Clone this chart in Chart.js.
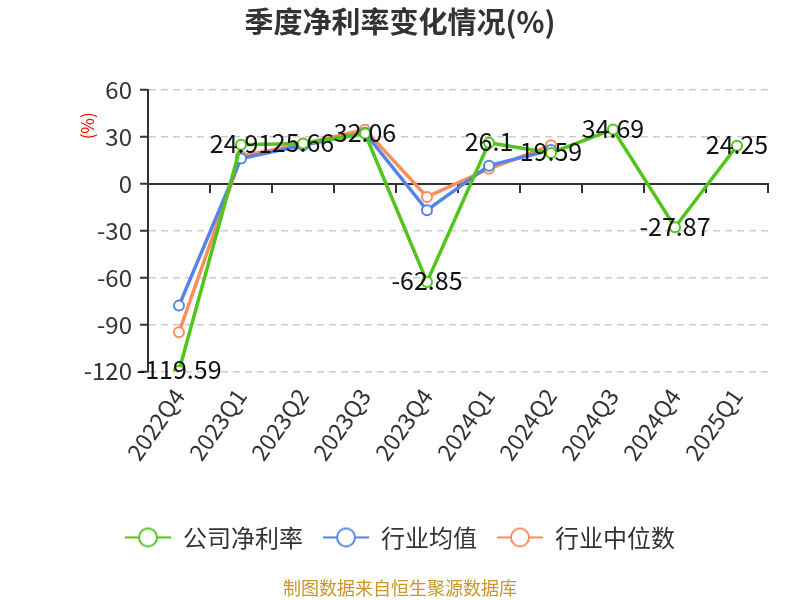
<!DOCTYPE html>
<html>
<head>
<meta charset="utf-8">
<script src="https://cdn.jsdelivr.net/npm/chart.js@4/dist/chart.umd.min.js"></script>
<style>
  html, body { margin: 0; padding: 0; background: #fff; }
  #wrap { width: 800px; height: 600px; }
</style>
</head>
<body>
<div id="wrap"><canvas id="rateChart" width="800" height="600"></canvas></div>
<script>
var quarters = ['2022Q4', '2023Q1', '2023Q2', '2023Q3', '2023Q4', '2024Q1', '2024Q2', '2024Q3', '2024Q4', '2025Q1'];
var companyRate = [-119.59, 24.91, 25.66, 32.06, -62.85, 26.1, 19.59, 34.69, -27.87, 24.25];
var industryAvg = [-78, 16, 24.5, 32.5, -17, 11.5, 21.5, null, null, null];
var industryMedian = [-95, 17.5, 25.5, 34.5, -8.5, 9.5, 24.5, null, null, null];
var yTicks = [-120, -90, -60, -30, 0, 30, 60];

var FONT = '"Noto Sans CJK SC", "Noto Sans", sans-serif';
var GREEN = '#52c41a', BLUE = '#5385e8', ORANGE = '#ff8c5c';

// legend marker: short line with hollow circle
var makeMarker = function(color) {
	var c = document.createElement('canvas');
	c.width = 46; c.height = 22;
	var g = c.getContext('2d');
	g.strokeStyle = color;
	g.lineWidth = 2;
	g.beginPath(); g.moveTo(0, 11); g.lineTo(46, 11); g.stroke();
	g.fillStyle = '#fff';
	g.beginPath(); g.arc(23, 11, 9, 0, Math.PI * 2); g.fill(); g.stroke();
	return c;
};

var valueLabels = {
	id: 'valueLabels',
	afterDatasetsDraw: function(chart) {
		var ctx = chart.ctx;
		var meta = chart.getDatasetMeta(0);
		ctx.save();
		ctx.font = '25px ' + FONT;
		ctx.fillStyle = '#111';
		ctx.textAlign = 'center';
		ctx.textBaseline = 'middle';
		meta.data.forEach(function(pt, i) {
			ctx.fillText(String(companyRate[i]), pt.x, pt.y - 1);
		});
		ctx.restore();
	}
};

var unitLabel = {
	id: 'unitLabel',
	afterDraw: function(chart) {
		var ctx = chart.ctx;
		var area = chart.chartArea;
		ctx.save();
		ctx.translate(area.left - 60, area.top + 36);
		ctx.rotate(-Math.PI / 2);
		ctx.font = '17px ' + FONT;
		ctx.fillStyle = '#ff0000';
		ctx.textAlign = 'center';
		ctx.textBaseline = 'middle';
		ctx.fillText('(%)', 0, 0);
		ctx.restore();
	}
};

var lineSet = function(label, data, color) {
	return {
		label: label,
		data: data,
		borderColor: color,
		backgroundColor: color,
		borderWidth: 3.5,
		pointRadius: 5,
		pointBorderWidth: 2,
		pointBackgroundColor: '#fff',
		pointBorderColor: color,
		tension: 0,
		spanGaps: false
	};
};

var rateChart = new Chart(document.getElementById('rateChart'), {
	type: 'line',
	data: {
		labels: quarters,
		datasets: [
			lineSet('公司净利率', companyRate, GREEN),
			lineSet('行业均值', industryAvg, BLUE),
			lineSet('行业中位数', industryMedian, ORANGE)
		]
	},
	plugins: [valueLabels, unitLabel],
	options: {
		responsive: false,
		animation: false,
		layout: { padding: { left: 32, right: 32, top: 0, bottom: 1 } },
		plugins: {
			title: {
				display: true,
				text: '季度净利率变化情况(%)',
				color: '#333',
				font: { family: FONT, size: 29, weight: 'bold' },
				padding: { top: 5, bottom: 50 }
			},
			subtitle: {
				display: true,
				position: 'bottom',
				text: '制图数据来自恒生聚源数据库',
				color: '#c9962c',
				font: { family: FONT, size: 18 },
				padding: { top: 18, bottom: 0 }
			},
			legend: {
				position: 'bottom',
				labels: {
					usePointStyle: true,
					pointStyleWidth: 46,
					color: '#333',
					font: { family: FONT, size: 24 },
					padding: 20,
					generateLabels: function(chart) {
						return chart.data.datasets.map(function(ds, i) {
							return {
								text: ds.label,
								pointStyle: makeMarker(ds.borderColor),
								fontColor: '#333',
								strokeStyle: ds.borderColor,
								fillStyle: '#fff',
								lineWidth: 0,
								hidden: false,
								datasetIndex: i
							};
						});
					}
				}
			},
			tooltip: { enabled: false }
		},
		scales: {
			x: {
				type: 'category',
				offset: true,
				border: { display: false },
				grid: { display: false },
				afterFit: function(scale) { scale.height += 36; },
				ticks: {
					color: '#333',
					font: { family: FONT, size: 23 },
					maxRotation: 55,
					minRotation: 55,
					padding: 4
				}
			},
			x2: {
				type: 'category',
				position: { y: 0 },
				offset: true,
				border: { display: true, color: '#333', width: 2 },
				grid: { display: true, offset: true, drawOnChartArea: false, drawTicks: true, tickLength: 8, color: '#333', lineWidth: 2 },
				ticks: { display: false }
			},
			y: {
				min: -120,
				max: 60,
				afterBuildTicks: function(scale) {
					scale.ticks = yTicks.map(function(v) { return { value: v }; });
				},
				afterFit: function(scale) { scale.width = 116; },
				border: { display: true, color: '#333', width: 2, dash: [7, 5] },
				grid: {
					color: '#cccccc',
					lineWidth: 1.5,
					drawTicks: true,
					tickLength: 8,
					tickColor: '#333',
					tickWidth: 2,
					tickBorderDash: []
				},
				ticks: {
					color: '#333',
					font: { family: FONT, size: 24 },
					padding: 8
				}
			}
		}
	}
});
</script>
</body>
</html>
